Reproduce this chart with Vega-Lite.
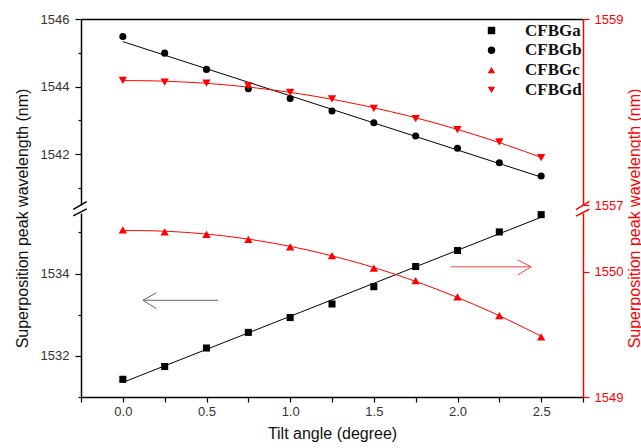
{
  "$schema": "https://vega.github.io/schema/vega-lite/v6.json",
  "padding": {"left": 14, "top": 13, "right": 2, "bottom": 4},
  "background": "white",
  "bounds": "flush",
  "config": {
    "view": {"stroke": null},
    "axis": {"labelFont": "Liberation Sans", "titleFont": "Liberation Sans", "labelFontSize": 13, "titleFontSize": 16, "labelColor": "#333333", "titleColor": "#111111", "titleFontWeight": "normal", "grid": false, "domainWidth": 1.5, "tickWidth": 1.2},
    "legend": {"orient": "none", "legendX": 402, "legendY": 3, "title": null, "padding": 0, "labelFont": "Liberation Serif", "labelFontWeight": "bold", "labelFontSize": 17, "labelColor": "#111111", "symbolSize": 55, "labelOffset": 25, "rowPadding": 1.8, "symbolStrokeWidth": 0}
  },
  "datasets": {
    "pts": [
      {"series": "CFBGa", "angle": 0.0, "wl": 1531.43},
      {"series": "CFBGa", "angle": 0.25, "wl": 1531.74},
      {"series": "CFBGa", "angle": 0.5, "wl": 1532.19},
      {"series": "CFBGa", "angle": 0.75, "wl": 1532.57},
      {"series": "CFBGa", "angle": 1.0, "wl": 1532.93},
      {"series": "CFBGa", "angle": 1.25, "wl": 1533.26},
      {"series": "CFBGa", "angle": 1.5, "wl": 1533.68},
      {"series": "CFBGa", "angle": 1.75, "wl": 1534.17},
      {"series": "CFBGa", "angle": 2.0, "wl": 1534.56},
      {"series": "CFBGa", "angle": 2.25, "wl": 1535.01},
      {"series": "CFBGa", "angle": 2.5, "wl": 1535.43},
      {"series": "CFBGb", "angle": 0.0, "wl": 1545.48},
      {"series": "CFBGb", "angle": 0.25, "wl": 1544.99},
      {"series": "CFBGb", "angle": 0.5, "wl": 1544.51},
      {"series": "CFBGb", "angle": 0.75, "wl": 1543.94},
      {"series": "CFBGb", "angle": 1.0, "wl": 1543.65},
      {"series": "CFBGb", "angle": 1.25, "wl": 1543.28},
      {"series": "CFBGb", "angle": 1.5, "wl": 1542.93},
      {"series": "CFBGb", "angle": 1.75, "wl": 1542.54},
      {"series": "CFBGb", "angle": 2.0, "wl": 1542.18},
      {"series": "CFBGb", "angle": 2.25, "wl": 1541.75},
      {"series": "CFBGb", "angle": 2.5, "wl": 1541.36},
      {"series": "CFBGc", "angle": 0.0, "wl": 1550.335},
      {"series": "CFBGc", "angle": 0.25, "wl": 1550.32},
      {"series": "CFBGc", "angle": 0.5, "wl": 1550.30},
      {"series": "CFBGc", "angle": 0.75, "wl": 1550.26},
      {"series": "CFBGc", "angle": 1.0, "wl": 1550.20},
      {"series": "CFBGc", "angle": 1.25, "wl": 1550.13},
      {"series": "CFBGc", "angle": 1.5, "wl": 1550.03},
      {"series": "CFBGc", "angle": 1.75, "wl": 1549.93},
      {"series": "CFBGc", "angle": 2.0, "wl": 1549.80},
      {"series": "CFBGc", "angle": 2.25, "wl": 1549.65},
      {"series": "CFBGc", "angle": 2.5, "wl": 1549.48},
      {"series": "CFBGd", "angle": 0.0, "wl": 1558.34},
      {"series": "CFBGd", "angle": 0.25, "wl": 1558.32},
      {"series": "CFBGd", "angle": 0.5, "wl": 1558.31},
      {"series": "CFBGd", "angle": 0.75, "wl": 1558.28},
      {"series": "CFBGd", "angle": 1.0, "wl": 1558.21},
      {"series": "CFBGd", "angle": 1.25, "wl": 1558.14},
      {"series": "CFBGd", "angle": 1.5, "wl": 1558.04},
      {"series": "CFBGd", "angle": 1.75, "wl": 1557.93},
      {"series": "CFBGd", "angle": 2.0, "wl": 1557.81},
      {"series": "CFBGd", "angle": 2.25, "wl": 1557.68},
      {"series": "CFBGd", "angle": 2.5, "wl": 1557.51}
    ],
    "annot": [
      {"grp": "breakUL", "ax": -0.296, "ax2": -0.216, "ay": 1540.37, "ay2": 1540.6},
      {"grp": "breakUR", "ax": 2.708, "ax2": 2.788, "ay": 1556.95, "ay2": 1557.04},
      {"grp": "breakLL", "ax": -0.296, "ax2": -0.216, "ay": 1535.40, "ay2": 1535.57},
      {"grp": "breakLR", "ax": 2.708, "ax2": 2.788, "ay": 1550.445, "ay2": 1550.50},
      {"grp": "arrowK", "ax": 0.12, "ax2": 0.57, "ay": 1533.35, "ay2": 1533.35},
      {"grp": "arrowK", "ax": 0.12, "ax2": 0.2, "ay": 1533.35, "ay2": 1533.53},
      {"grp": "arrowK", "ax": 0.12, "ax2": 0.2, "ay": 1533.35, "ay2": 1533.15},
      {"grp": "arrowR", "ax": 1.96, "ax2": 2.44, "ay": 1550.04, "ay2": 1550.04},
      {"grp": "arrowR", "ax": 2.44, "ax2": 2.36, "ay": 1550.04, "ay2": 1550.095},
      {"grp": "arrowR", "ax": 2.44, "ax2": 2.36, "ay": 1550.04, "ay2": 1549.975}
    ]
  },
  "data": {"name": "pts"},
  "spacing": 8,
  "vconcat": [
    {
      "width": 502,
      "height": 186,
      "layer": [
        {
          "encoding": {
            "x": {"field": "angle", "type": "quantitative", "scale": {"domain": [-0.25, 2.75], "nice": false, "zero": false}, "axis": {"orient": "top", "labels": false, "ticks": false, "title": null, "domainColor": "#000000"}},
            "y": {"field": "wl", "type": "quantitative", "scale": {"domain": [1540.5, 1546], "nice": false, "zero": false}, "axis": {"orient": "left", "title": null, "values": [1541, 1542, 1543, 1544, 1545, 1546], "format": "d", "labelExpr": "datum.value % 2 == 0 ? datum.label : ''", "tickSize": {"condition": {"test": "datum.value % 2 == 0", "value": 6}, "value": 3}, "labelPadding": 6, "domainColor": "#000000", "tickColor": "#000000"}}
          },
          "layer": [
            {"transform": [{"filter": "datum.series == 'CFBGb'"}, {"regression": "wl", "on": "angle", "method": "linear"}], "mark": {"type": "line", "color": "#000000", "strokeWidth": 1}},
            {"transform": [{"filter": "datum.series == 'CFBGb'"}], "mark": {"type": "point", "filled": true, "opacity": 1, "size": 50},
             "encoding": {
               "color": {"field": "series", "type": "nominal", "scale": {"domain": ["CFBGa", "CFBGb", "CFBGc", "CFBGd"], "range": ["#000000", "#000000", "#ff0000", "#ff0000"]}},
               "shape": {"field": "series", "type": "nominal", "scale": {"domain": ["CFBGa", "CFBGb", "CFBGc", "CFBGd"], "range": ["square", "circle", "triangle-up", "triangle-down"]}}
             }},
            {"data": {"name": "annot"}, "transform": [{"filter": "datum.grp == 'breakUL'"}], "mark": {"type": "rule", "color": "#000000", "strokeWidth": 1.5},
             "encoding": {"x": {"field": "ax", "type": "quantitative"}, "x2": {"field": "ax2"}, "y": {"field": "ay", "type": "quantitative"}, "y2": {"field": "ay2"}}}
          ]
        },
        {
          "encoding": {
            "x": {"field": "angle", "type": "quantitative", "scale": {"domain": [-0.25, 2.75], "nice": false, "zero": false}, "axis": {"orient": "top", "labels": false, "ticks": false, "title": null, "domainColor": "#000000"}},
            "y": {"field": "wl", "type": "quantitative", "scale": {"domain": [1557, 1559], "nice": false, "zero": false}, "axis": {"orient": "right", "title": null, "values": [1557, 1557.5, 1558, 1558.5, 1559], "format": "d", "labelExpr": "datum.value % 1 == 0 ? datum.label : ''", "tickSize": {"condition": {"test": "datum.value % 1 == 0", "value": 6}, "value": 3}, "labelPadding": 5, "domainColor": "#ff0000", "tickColor": "#ff0000", "labelColor": "#ff0000"}}
          },
          "layer": [
            {"transform": [{"filter": "datum.series == 'CFBGd'"}, {"regression": "wl", "on": "angle", "method": "poly", "order": 2}], "mark": {"type": "line", "color": "#ff0000", "strokeWidth": 1}},
            {"transform": [{"filter": "datum.series == 'CFBGd'"}], "mark": {"type": "point", "filled": true, "opacity": 1, "size": 70},
             "encoding": {
               "color": {"field": "series", "type": "nominal", "scale": {"domain": ["CFBGa", "CFBGb", "CFBGc", "CFBGd"], "range": ["#000000", "#000000", "#ff0000", "#ff0000"]}},
               "shape": {"field": "series", "type": "nominal", "scale": {"domain": ["CFBGa", "CFBGb", "CFBGc", "CFBGd"], "range": ["square", "circle", "triangle-up", "triangle-down"]}}
             }},
            {"data": {"name": "annot"}, "transform": [{"filter": "datum.grp == 'breakUR'"}], "mark": {"type": "rule", "color": "#ff0000", "strokeWidth": 1.5},
             "encoding": {"x": {"field": "ax", "type": "quantitative"}, "x2": {"field": "ax2"}, "y": {"field": "ay", "type": "quantitative"}, "y2": {"field": "ay2"}}}
          ]
        }
      ],
      "resolve": {"scale": {"y": "independent"}}
    },
    {
      "width": 502,
      "height": 184,
      "layer": [
        {
          "encoding": {
            "x": {"field": "angle", "type": "quantitative", "scale": {"domain": [-0.25, 2.75], "nice": false, "zero": false}, "axis": {"orient": "bottom", "title": "Tilt angle (degree)", "values": [-0.25, 0, 0.25, 0.5, 0.75, 1, 1.25, 1.5, 1.75, 2, 2.25, 2.5, 2.75], "labelExpr": "abs(datum.value * 2 - round(datum.value * 2)) < 0.001 ? format(datum.value, '.1f') : ''", "tickSize": 5, "labelPadding": 3, "titlePadding": 7, "domainColor": "#000000", "tickColor": "#000000"}},
            "y": {"field": "wl", "type": "quantitative", "scale": {"domain": [1531, 1535.47], "nice": false, "zero": false}, "axis": {"orient": "left", "title": "Superposition peak wavelength (nm)", "titleX": -59, "titleY": 5, "titleAngle": -90, "titleAlign": "center", "titleBaseline": "middle", "values": [1531, 1532, 1533, 1534, 1535], "format": "d", "labelExpr": "datum.value % 2 == 0 ? datum.label : ''", "tickSize": {"condition": {"test": "datum.value % 2 == 0", "value": 6}, "value": 3}, "labelPadding": 6, "domainColor": "#000000", "tickColor": "#000000"}}
          },
          "layer": [
            {"transform": [{"filter": "datum.series == 'CFBGa'"}, {"regression": "wl", "on": "angle", "method": "linear"}], "mark": {"type": "line", "color": "#000000", "strokeWidth": 1}},
            {"transform": [{"filter": "datum.series == 'CFBGa'"}], "mark": {"type": "point", "filled": true, "opacity": 1, "size": 50},
             "encoding": {
               "color": {"field": "series", "type": "nominal", "scale": {"domain": ["CFBGa", "CFBGb", "CFBGc", "CFBGd"], "range": ["#000000", "#000000", "#ff0000", "#ff0000"]}},
               "shape": {"field": "series", "type": "nominal", "scale": {"domain": ["CFBGa", "CFBGb", "CFBGc", "CFBGd"], "range": ["square", "circle", "triangle-up", "triangle-down"]}}
             }},
            {"data": {"name": "annot"}, "transform": [{"filter": "datum.grp == 'breakLL'"}], "mark": {"type": "rule", "color": "#000000", "strokeWidth": 1.5},
             "encoding": {"x": {"field": "ax", "type": "quantitative"}, "x2": {"field": "ax2"}, "y": {"field": "ay", "type": "quantitative"}, "y2": {"field": "ay2"}}},
            {"data": {"name": "annot"}, "transform": [{"filter": "datum.grp == 'arrowK'"}], "mark": {"type": "rule", "color": "#666666", "strokeWidth": 1},
             "encoding": {"x": {"field": "ax", "type": "quantitative"}, "x2": {"field": "ax2"}, "y": {"field": "ay", "type": "quantitative"}, "y2": {"field": "ay2"}}}
          ]
        },
        {
          "encoding": {
            "x": {"field": "angle", "type": "quantitative", "scale": {"domain": [-0.25, 2.75], "nice": false, "zero": false}, "axis": {"orient": "bottom", "title": "Tilt angle (degree)", "values": [-0.25, 0, 0.25, 0.5, 0.75, 1, 1.25, 1.5, 1.75, 2, 2.25, 2.5, 2.75], "labelExpr": "abs(datum.value * 2 - round(datum.value * 2)) < 0.001 ? format(datum.value, '.1f') : ''", "tickSize": 5, "labelPadding": 3, "titlePadding": 7, "domainColor": "#000000", "tickColor": "#000000"}},
            "y": {"field": "wl", "type": "quantitative", "scale": {"domain": [1549, 1550.47], "nice": false, "zero": false}, "axis": {"orient": "right", "title": "Superposition peak wavelength (nm)", "titleX": 51, "titleY": 5, "titleAngle": -90, "titleAlign": "center", "titleBaseline": "middle", "titleColor": "#ff0000", "values": [1549, 1549.5, 1550], "format": "d", "labelExpr": "datum.value % 1 == 0 ? datum.label : ''", "tickSize": {"condition": {"test": "datum.value % 1 == 0", "value": 6}, "value": 3}, "labelPadding": 5, "domainColor": "#ff0000", "tickColor": "#ff0000", "labelColor": "#ff0000"}}
          },
          "layer": [
            {"transform": [{"filter": "datum.series == 'CFBGc'"}, {"regression": "wl", "on": "angle", "method": "poly", "order": 2}], "mark": {"type": "line", "color": "#ff0000", "strokeWidth": 1}},
            {"transform": [{"filter": "datum.series == 'CFBGc'"}], "mark": {"type": "point", "filled": true, "opacity": 1, "size": 70},
             "encoding": {
               "color": {"field": "series", "type": "nominal", "scale": {"domain": ["CFBGa", "CFBGb", "CFBGc", "CFBGd"], "range": ["#000000", "#000000", "#ff0000", "#ff0000"]}},
               "shape": {"field": "series", "type": "nominal", "scale": {"domain": ["CFBGa", "CFBGb", "CFBGc", "CFBGd"], "range": ["square", "circle", "triangle-up", "triangle-down"]}}
             }},
            {"data": {"name": "annot"}, "transform": [{"filter": "datum.grp == 'breakLR'"}], "mark": {"type": "rule", "color": "#ff0000", "strokeWidth": 1.5},
             "encoding": {"x": {"field": "ax", "type": "quantitative"}, "x2": {"field": "ax2"}, "y": {"field": "ay", "type": "quantitative"}, "y2": {"field": "ay2"}}},
            {"data": {"name": "annot"}, "transform": [{"filter": "datum.grp == 'arrowR'"}], "mark": {"type": "rule", "color": "#ff4040", "strokeWidth": 1},
             "encoding": {"x": {"field": "ax", "type": "quantitative"}, "x2": {"field": "ax2"}, "y": {"field": "ay", "type": "quantitative"}, "y2": {"field": "ay2"}}}
          ]
        }
      ],
      "resolve": {"scale": {"y": "independent"}}
    }
  ]
}
